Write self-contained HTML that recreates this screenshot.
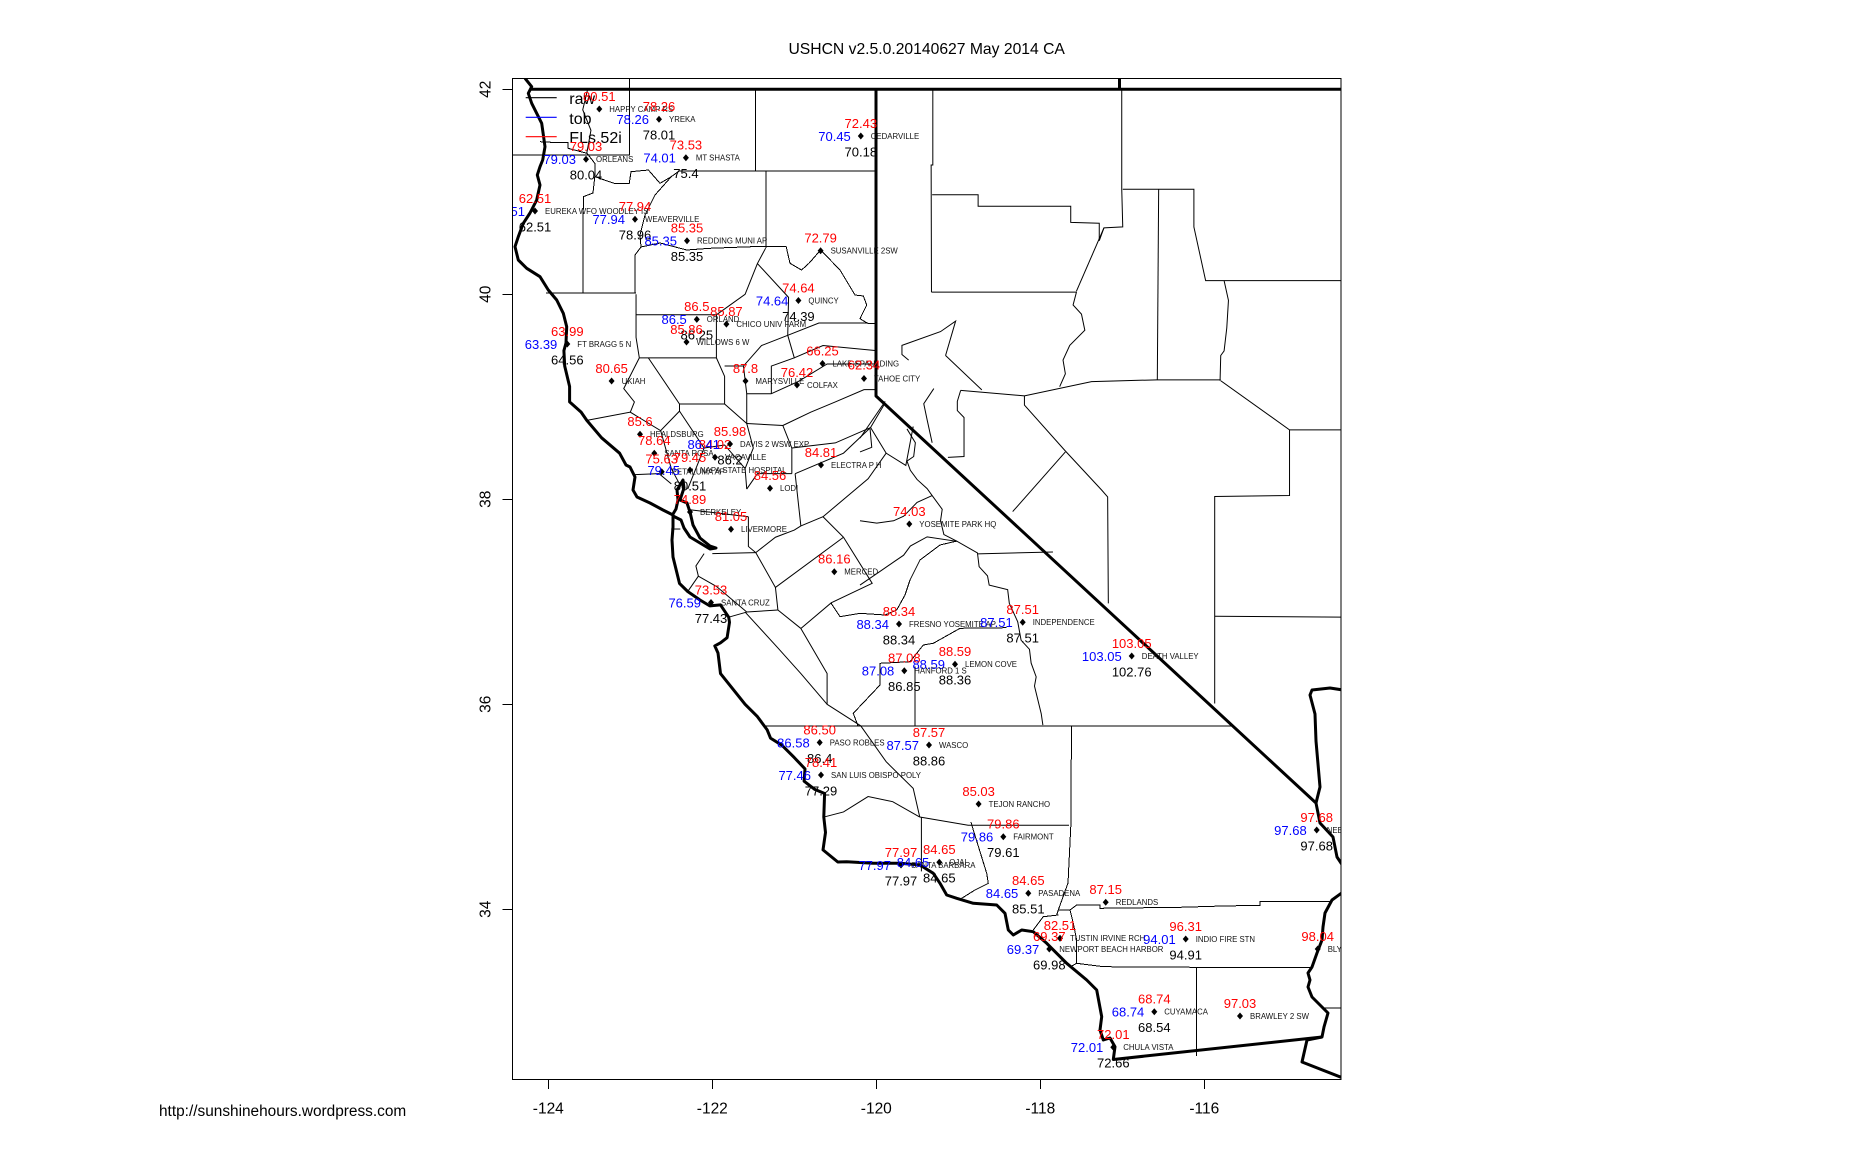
<!DOCTYPE html>
<html><head><meta charset="utf-8">
<style>
html,body{margin:0;padding:0;background:#fff;}
svg{display:block;font-family:"Liberation Sans",Arial,sans-serif;}
.thin{fill:none;stroke:#000;stroke-width:1;}
.thin *{vector-effect:non-scaling-stroke;}
.thick{fill:none;stroke:#000;stroke-width:3;stroke-linejoin:round;}
.r{fill:#ff0000;text-anchor:middle;font-size:13px;}
.b{fill:#0000ff;text-anchor:end;font-size:13px;}
.k{fill:#000;text-anchor:middle;font-size:13px;}
.n{fill:#111;font-size:7.8px;}
.pt{fill:#000;}
</style></head>
<body>
<svg width="1854" height="1158" viewBox="0 0 1854 1158" xmlns="http://www.w3.org/2000/svg">
<defs><clipPath id="pc"><rect x="512.3" y="78.3" width="828.7" height="1001"/></clipPath></defs>
<rect width="1854" height="1158" fill="#fff"/>
<text x="926.7" y="54" text-anchor="middle" font-size="15.7">USHCN v2.5.0.20140627 May 2014 CA</text>

<g clip-path="url(#pc)">
<!-- thin pixel lines -->
<g class="thin" shape-rendering="crispEdges">
<polyline points="540,141.7 558.5,142.7 568,142.7 568,148.3 587,153.3 594.8,163.3 594.8,176.7 614,183.3 629.3,183.3 631,171.7 648.4,170 660,183.3 671.3,176.7 679,171 876,171"/>
<polyline points="755.5,89.3 755.5,171"/>
<polyline points="766,171 766,248"/>
<polyline points="594.8,176.7 593,193 583.3,196.7 583,293"/>
<polyline points="546,293 636,293"/>
<polyline points="635,293 635,255 641,247 660,243 686.7,250 709.6,248.3 751.7,246.7 766,246.7 786.2,246.7 790,263.3 801.5,270 809,263.3 820.6,250 840,270 855,295 863.4,296 866.7,305 860,318.7 867.6,323.3 876,323.3"/>
<polyline points="671.3,176.7 655,195 645,215 640,235 641,247"/>
<polyline points="766,726 1233,726"/>
<polyline points="971,822 973.3,830 986.7,873.3 988.3,883.3 975,890 961.7,898.3"/>
<polyline points="1071.4,726 1071,822 1068,883 1058.3,910 1056.7,915"/>
<polyline points="1033.3,930 1043.3,916.7 1058.3,915"/>
<polyline points="1058.3,910 1070,910 1076.7,905 1100,905 1100,908.3 1180,907.3 1223,906 1260,905.3 1260,901.7 1331.7,901.7"/>
<polyline points="1070,910 1073.3,923.3 1076.7,940 1076.7,963.3 1070,967"/>
<polyline points="1076.7,963.3 1103.3,966.7 1196.7,967.3 1310,967.3"/>
<polyline points="1196.7,967.3 1196.7,1056"/>
<polyline points="1324,1008 1341,1008"/>
<polyline points="1006.7,627.7 960,628.3 933.3,643.3 923.3,645 910,661.7 880,663.3 880,685 853.3,713.3 858.3,726.7"/>
<polyline points="915,666.7 915,726.7"/>
<polyline points="831,603 840,616.7 860,613.3 885,615 896.7,610 905,595 910,580 920,560 940,545 957,541"/>
</g>
<!-- thin lon/lat lines -->
<g class="thin" transform="translate(548.3,89.3) scale(82,-102.5) translate(124,-42)">
<polyline points="-123.53,41.38 -123.48,41.6 -123.58,41.8 -123.52,42.0"/>
<polyline points="-122.93,40.0 -122.93,39.58 -122.89,39.38"/>
<polyline points="-122.89,39.38 -123.08,39.08 -122.95,38.95 -123.0,38.85"/>
<polyline points="-123.53,38.77 -123.0,38.85 -122.63,38.67 -122.4,38.86 -122.4,38.93"/>
<polyline points="-122.78,39.38 -122.4,38.93 -121.85,38.93"/>
<polyline points="-122.93,39.8 -121.95,39.8"/>
<polyline points="-122.89,39.38 -121.95,39.38"/>
<polyline points="-121.95,39.8 -121.95,39.38 -121.85,39.2 -121.85,38.93 -121.58,38.74"/>
<polyline points="-121.95,39.8 -121.6,40.0 -121.45,40.3 -121.35,40.45"/>
<polyline points="-121.45,40.3 -121.07,39.97 -121.08,39.6"/>
<polyline points="-121.85,39.3 -121.62,39.3 -121.4,39.5 -121.08,39.6"/>
<polyline points="-121.08,39.6 -120.7,39.72 -120.1,39.72"/>
<polyline points="-121.62,39.3 -121.58,39.03 -121.28,39.03"/>
<polyline points="-121.28,39.03 -121.28,39.3 -121.0,39.38 -121.08,39.6"/>
<polyline points="-121.28,39.03 -120.95,39.15 -120.6,39.32 -120.0,39.32"/>
<polyline points="-121.0,39.38 -120.65,39.5 -120.0,39.45"/>
<polyline points="-121.14,38.72 -120.8,38.85 -120.5,38.95 -120.15,39.07 -120.0,39.07"/>
<polyline points="-121.58,38.74 -121.58,39.03"/>
<polyline points="-121.58,38.1 -121.45,38.25 -121.03,38.25"/>
<polyline points="-121.03,38.25 -121.03,38.5 -121.14,38.72 -121.58,38.74"/>
<polyline points="-121.58,38.74 -121.5,38.5 -121.6,38.3 -121.58,38.1"/>
<polyline points="-122.1,38.5 -121.85,38.53 -121.6,38.3"/>
<polyline points="-122.4,38.86 -122.1,38.5 -122.2,38.3 -122.3,38.1"/>
<polyline points="-122.63,38.67 -122.5,38.3 -122.4,38.15"/>
<polyline points="-122.97,38.24 -122.65,38.25 -122.5,38.15"/>
<polyline points="-122.3,37.9 -121.56,37.83"/>
<polyline points="-122.0,37.47 -121.47,37.48"/>
<polyline points="-121.56,37.83 -121.56,37.54 -121.47,37.48"/>
<polyline points="-121.47,37.48 -121.23,37.63 -121.0,37.7 -120.92,37.74"/>
<polyline points="-120.92,37.74 -120.99,38.25"/>
<polyline points="-121.23,37.14 -120.4,37.63"/>
<polyline points="-121.47,37.48 -121.23,37.14"/>
<polyline points="-120.92,37.74 -120.65,37.83 -120.4,37.63"/>
<polyline points="-120.65,37.83 -120.1,38.2 -119.88,38.45"/>
<polyline points="-120.99,38.25 -120.4,38.45 -120.07,38.7"/>
<polyline points="-121.03,38.5 -120.5,38.55 -120.07,38.7"/>
<polyline points="-120.07,38.7 -119.9,38.93"/>
<polyline points="-120.07,38.7 -119.88,38.45 -119.64,38.33 -119.55,38.71"/>
<polyline points="-120.4,37.63 -120.05,37.18 -120.55,36.99 -120.92,36.74"/>
<polyline points="-121.23,37.14 -121.2,36.92 -120.92,36.74"/>
<polyline points="-120.92,36.74 -120.6,36.3 -120.6,36.0 -120.19,35.79"/>
<polyline points="-121.6,36.9 -121.2,36.55 -120.92,36.3 -120.6,36.0"/>
<polyline points="-122.1,37.47 -122.2,37.35 -122.17,37.25 -121.95,37.15 -121.58,36.9 -121.2,36.92"/>
<polyline points="-122.3,37.1 -122.17,37.25"/>
<polyline points="-121.8,36.85 -121.58,36.9"/>
<polyline points="-122.5,37.71 -122.39,37.71"/>
<polyline points="-120.64,34.9 -120.4,34.95 -120.1,35.1 -119.8,35.05 -119.47,34.9"/>
<polyline points="-120.19,35.79 -119.88,35.44 -119.55,35.18 -119.47,34.9"/>
<polyline points="-119.47,34.9 -118.88,34.82 -117.65,34.82"/>
<polyline points="-119.45,34.9 -119.45,34.37"/>
</g>
<!-- Nevada & eastern lines -->
<g class="thin" transform="translate(860,80) scale(0.33557,0.45914)">
<polyline points="217,18 217,185 212,185 213,462"/>
<polyline points="215,250 352,250 352,275 628,275 628,310 713,312 713,350 727,322 783,320 780,238 780,18"/>
<polyline points="727,322 645,460"/>
<polyline points="213,462 645,462 635,490 660,510 670,545 625,578 605,610 612,640 595,668"/>
<polyline points="300,676 490,688 690,657 885,653 1075,653"/>
<polyline points="490,688 490,708 612,808 720,893 738,908 740,1140"/>
<polyline points="612,810 455,940"/>
<polyline points="890,238 886,653"/>
<polyline points="783,238 995,238 995,320 1030,437 1443,437"/>
<polyline points="1085,437 1098,480 1093,540 1085,590 1075,600 1073,655"/>
<polyline points="1075,655 1280,762 1443,762"/>
<polyline points="1280,762 1280,905 1057,907 1057,1358"/>
<polyline points="1057,1168 1443,1170"/>
<polyline points="255,600 285,525 240,548 125,578 125,598 145,610"/>
<polyline points="255,600 363,675"/>
<polyline points="220,672 190,705 200,740 215,790"/>
<polyline points="300,676 290,700 290,720 310,735 310,820 262,822"/>
<polyline points="0,1100 60,1070 100,1050 130,1035 150,1015 200,995 290,1005 350,1030 355,1060 380,1080 385,1100 440,1110 445,1140 470,1180 480,1220 505,1240 510,1270 525,1300 520,1320 540,1380 545,1405"/>
<polyline points="350,1032 575,1028"/>
<polyline points="0,960 50,965 100,960 130,950 150,935 170,920 215,905"/>
<polyline points="140,760 165,790 160,820 140,830 150,850 170,870 200,890 215,905 245,935 240,960 250,990 290,1005"/>
<polyline points="30,760 35,800 0,810"/>
<polyline points="0,780 75,700"/>
</g>
<!-- thick state borders -->
<g class="thick">
<polyline points="525,78.3 531.7,86.7 528.3,93.3 531.7,103.3 541.7,123.3 545,146.7 542.7,160 540,166.7 537.3,175 540,185 536.7,200 530,213 523.3,223.3 518.3,236.7 515,246.7 518.3,260 526.7,268.3 540,276.7 548.3,290 556.7,300 563.3,313.3 566.7,326.7 566,343 563.9,350.7 564.7,366 569.6,386.5 569.6,401.9 581.1,412.1 586.8,420.4 601.6,437.8 619.6,453.2 626,465 630,467 635,477 633,490 637,497 650,503 663,510 673,515 673,527 672,540 673,557 679.5,583.4 687.7,591.5 700,600 709.8,605.9 720.5,604.9 728.7,617.2 729.5,622.3 727.1,637.7 720.5,642.8 714.8,645.9 718,653 720.5,673.6 728.7,683.8 745.1,704.3 757.4,716.6 767.2,729.9 770.5,738.1 782,745.3 794.3,757.6 805,768.9 804.1,781.2 814.8,789.4 824.6,793.5 823.8,817.1 825.5,832.4 823,849.9 837.8,862 846.7,861.7 873.3,863.3 900,863.3 920,865 933.3,873.3 940,883.3 946.7,895 956.7,898.3 973.3,903.3 996.7,905 1005,913.3 1008.3,930 1013.3,935 1021.7,930 1033.3,931.7 1046.7,943.3 1066.7,963.3 1086.7,980 1096.7,990 1101.7,1016.7 1100,1030 1103.3,1040 1110,1038 1115,1046.7 1113.3,1059.5 1322,1037 1324,1027 1328,1013 1322,1007 1312,997 1308,987 1310,980 1308,973 1312,967 1317,953 1322,940 1323,927 1325,913 1332,900 1343,892"/>
<polyline points="1343,866 1337,857 1333,837 1320,823 1316,803 876,396 876,89.3"/>
<polyline points="531,89.3 1343,89.3"/>
<polyline points="1119.5,76 1119.5,89.3"/>
<polyline points="1316,803 1320,787 1316,741 1315,714 1310,695 1312,690 1330,688 1343,690"/>
<polyline points="1322,1037 1307,1040 1302,1062 1343,1078"/>
<polyline points="673,514 676,509 678,500 677,490 683,480 684,488 680,500 687,503 690,512 693,525 700,538 710,546 716,548 710,549 700,543 690,537 684,528 681,520 673,516"/>
</g>

<!-- legend -->
<rect x="512.5" y="78.5" width="117" height="76.5" fill="none" stroke="#000" stroke-width="1" shape-rendering="crispEdges"/>
<line x1="525.7" y1="97.7" x2="556.7" y2="97.7" stroke="#000" stroke-width="1.2"/>
<line x1="525.7" y1="117.3" x2="556.7" y2="117.3" stroke="#0000ff" stroke-width="1.2"/>
<line x1="525.7" y1="136.7" x2="556.7" y2="136.7" stroke="#ff0000" stroke-width="1.2"/>
<text x="569.3" y="104.2" font-size="16">raw</text>
<text x="569.3" y="123.8" font-size="16">tob</text>
<text x="569.3" y="143.2" font-size="16">FLs.52i</text>

<!-- stations -->
<g transform="translate(599.3,109)"><path class="pt" d="M0,-3.5L3,0L0,3.5L-3,0Z"/><text class="n" x="10" y="2.8">HAPPY CAMP RS</text><text class="r" y="-8.2">80.51</text></g>
<g transform="translate(659,119.3)"><path class="pt" d="M0,-3.5L3,0L0,3.5L-3,0Z"/><text class="n" x="10" y="2.8">YREKA</text><text class="r" y="-8.2">78.26</text><text class="b" x="-10" y="4.8">78.26</text><text class="k" y="20.3">78.01</text></g>
<g transform="translate(586,159.3)"><path class="pt" d="M0,-3.5L3,0L0,3.5L-3,0Z"/><text class="n" x="10" y="2.8">ORLEANS</text><text class="r" y="-8.2">79.03</text><text class="b" x="-10" y="4.8">79.03</text><text class="k" y="20.3">80.04</text></g>
<g transform="translate(685.9,157.7)"><path class="pt" d="M0,-3.5L3,0L0,3.5L-3,0Z"/><text class="n" x="10" y="2.8">MT SHASTA</text><text class="r" y="-8.2">73.53</text><text class="b" x="-10" y="4.8">74.01</text><text class="k" y="20.3">75.4</text></g>
<g transform="translate(860.8,136)"><path class="pt" d="M0,-3.5L3,0L0,3.5L-3,0Z"/><text class="n" x="10" y="2.8">CEDARVILLE</text><text class="r" y="-8.2">72.43</text><text class="b" x="-10" y="4.8">70.45</text><text class="k" y="20.3">70.18</text></g>
<g transform="translate(535,211)"><path class="pt" d="M0,-3.5L3,0L0,3.5L-3,0Z"/><text class="n" x="10" y="2.8">EUREKA WFO WOODLEY IS</text><text class="r" y="-8.2">62.51</text><text class="b" x="-10" y="4.8">62.51</text><text class="k" y="20.3">62.51</text></g>
<g transform="translate(635,219.3)"><path class="pt" d="M0,-3.5L3,0L0,3.5L-3,0Z"/><text class="n" x="10" y="2.8">WEAVERVILLE</text><text class="r" y="-8.2">77.94</text><text class="b" x="-10" y="4.8">77.94</text><text class="k" y="20.3">78.96</text></g>
<g transform="translate(687,240.7)"><path class="pt" d="M0,-3.5L3,0L0,3.5L-3,0Z"/><text class="n" x="10" y="2.8">REDDING MUNI AP</text><text class="r" y="-8.2">85.35</text><text class="b" x="-10" y="4.8">85.35</text><text class="k" y="20.3">85.35</text></g>
<g transform="translate(820.6,250.7)"><path class="pt" d="M0,-3.5L3,0L0,3.5L-3,0Z"/><text class="n" x="10" y="2.8">SUSANVILLE 2SW</text><text class="r" y="-8.2">72.79</text></g>
<g transform="translate(798.4,300.5)"><path class="pt" d="M0,-3.5L3,0L0,3.5L-3,0Z"/><text class="n" x="10" y="2.8">QUINCY</text><text class="r" y="-8.2">74.64</text><text class="b" x="-10" y="4.8">74.64</text><text class="k" y="20.3">74.39</text></g>
<g transform="translate(696.8,319.4)"><path class="pt" d="M0,-3.5L3,0L0,3.5L-3,0Z"/><text class="n" x="10" y="2.8">ORLAND</text><text class="r" y="-8.2">86.5</text><text class="b" x="-10" y="4.8">86.5</text><text class="k" y="20.3">86.25</text></g>
<g transform="translate(726.4,324.1)"><path class="pt" d="M0,-3.5L3,0L0,3.5L-3,0Z"/><text class="n" x="10" y="2.8">CHICO UNIV FARM</text><text class="r" y="-8.2">85.87</text></g>
<g transform="translate(686.5,342)"><path class="pt" d="M0,-3.5L3,0L0,3.5L-3,0Z"/><text class="n" x="10" y="2.8">WILLOWS 6 W</text><text class="r" y="-8.2">85.86</text></g>
<g transform="translate(567.3,344)"><path class="pt" d="M0,-3.5L3,0L0,3.5L-3,0Z"/><text class="n" x="10" y="2.8">FT BRAGG 5 N</text><text class="r" y="-8.2">63.99</text><text class="b" x="-10" y="4.8">63.39</text><text class="k" y="20.3">64.56</text></g>
<g transform="translate(611.6,381)"><path class="pt" d="M0,-3.5L3,0L0,3.5L-3,0Z"/><text class="n" x="10" y="2.8">UKIAH</text><text class="r" y="-8.2">80.65</text></g>
<g transform="translate(745.5,381)"><path class="pt" d="M0,-3.5L3,0L0,3.5L-3,0Z"/><text class="n" x="10" y="2.8">MARYSVILLE</text><text class="r" y="-8.2">87.8</text></g>
<g transform="translate(822.5,363.5)"><path class="pt" d="M0,-3.5L3,0L0,3.5L-3,0Z"/><text class="n" x="10" y="2.8">LAKE SPAULDING</text><text class="r" y="-8.2">66.25</text></g>
<g transform="translate(864,378.5)"><path class="pt" d="M0,-3.5L3,0L0,3.5L-3,0Z"/><text class="n" x="10" y="2.8">TAHOE CITY</text><text class="r" y="-9">62.34</text></g>
<g transform="translate(797,385)"><path class="pt" d="M0,-3.5L3,0L0,3.5L-3,0Z"/><text class="n" x="10" y="2.8">COLFAX</text><text class="r" y="-8.2">76.42</text></g>
<g transform="translate(640,434.3)"><path class="pt" d="M0,-3.5L3,0L0,3.5L-3,0Z"/><text class="n" x="10" y="2.8">HEALDSBURG</text><text class="r" y="-8.2">85.6</text></g>
<g transform="translate(654.3,453.3)"><path class="pt" d="M0,-3.5L3,0L0,3.5L-3,0Z"/><text class="n" x="10" y="2.8">SANTA ROSA</text><text class="r" y="-8.2">78.64</text></g>
<g transform="translate(661.7,471.7)"><path class="pt" d="M0,-3.5L3,0L0,3.5L-3,0Z"/><text class="n" x="10" y="2.8">PETALUMA AP</text><text class="r" y="-8.2">75.63</text></g>
<g transform="translate(690,470)"><path class="pt" d="M0,-3.5L3,0L0,3.5L-3,0Z"/><text class="n" x="10" y="2.8">NAPA STATE HOSPITAL</text><text class="r" y="-8.2">79.45</text><text class="b" x="-10" y="4.8">79.45</text><text class="k" y="20.3">80.51</text></g>
<g transform="translate(715,457.3)"><path class="pt" d="M0,-3.5L3,0L0,3.5L-3,0Z"/><text class="n" x="10" y="2.8">VACAVILLE</text><text class="r" y="-8.2">84.02</text></g>
<g transform="translate(730,444)"><path class="pt" d="M0,-3.5L3,0L0,3.5L-3,0Z"/><text class="n" x="10" y="2.8">DAVIS 2 WSW EXP</text><text class="r" y="-8.2">85.98</text><text class="b" x="-10" y="4.8">86.41</text><text class="k" y="20.3">86.2</text></g>
<g transform="translate(821,465)"><path class="pt" d="M0,-3.5L3,0L0,3.5L-3,0Z"/><text class="n" x="10" y="2.8">ELECTRA P H</text><text class="r" y="-8.2">84.81</text></g>
<g transform="translate(770,488.3)"><path class="pt" d="M0,-3.5L3,0L0,3.5L-3,0Z"/><text class="n" x="10" y="2.8">LODI</text><text class="r" y="-8.2">84.56</text></g>
<g transform="translate(690,512)"><path class="pt" d="M0,-3.5L3,0L0,3.5L-3,0Z"/><text class="n" x="10" y="2.8">BERKELEY</text><text class="r" y="-8.2">74.89</text></g>
<g transform="translate(731,529.3)"><path class="pt" d="M0,-3.5L3,0L0,3.5L-3,0Z"/><text class="n" x="10" y="2.8">LIVERMORE</text><text class="r" y="-8.2">81.05</text></g>
<g transform="translate(909.3,524)"><path class="pt" d="M0,-3.5L3,0L0,3.5L-3,0Z"/><text class="n" x="10" y="2.8">YOSEMITE PARK HQ</text><text class="r" y="-8.2">74.03</text></g>
<g transform="translate(834.3,571.8)"><path class="pt" d="M0,-3.5L3,0L0,3.5L-3,0Z"/><text class="n" x="10" y="2.8">MERCED</text><text class="r" y="-8.2">86.16</text></g>
<g transform="translate(711,602.5)"><path class="pt" d="M0,-3.5L3,0L0,3.5L-3,0Z"/><text class="n" x="10" y="2.8">SANTA CRUZ</text><text class="r" y="-8.2">73.53</text><text class="b" x="-10" y="4.8">76.59</text><text class="k" y="20.3">77.43</text></g>
<g transform="translate(899,624)"><path class="pt" d="M0,-3.5L3,0L0,3.5L-3,0Z"/><text class="n" x="10" y="2.8">FRESNO YOSEMITE AP</text><text class="r" y="-8.2">88.34</text><text class="b" x="-10" y="4.8">88.34</text><text class="k" y="20.3">88.34</text></g>
<g transform="translate(1022.7,622.3)"><path class="pt" d="M0,-3.5L3,0L0,3.5L-3,0Z"/><text class="n" x="10" y="2.8">INDEPENDENCE</text><text class="r" y="-8.2">87.51</text><text class="b" x="-10" y="4.8">87.51</text><text class="k" y="20.3">87.51</text></g>
<g transform="translate(1131.7,656)"><path class="pt" d="M0,-3.5L3,0L0,3.5L-3,0Z"/><text class="n" x="10" y="2.8">DEATH VALLEY</text><text class="r" y="-8.2">103.05</text><text class="b" x="-10" y="4.8">103.05</text><text class="k" y="20.3">102.76</text></g>
<g transform="translate(955,664.3)"><path class="pt" d="M0,-3.5L3,0L0,3.5L-3,0Z"/><text class="n" x="10" y="2.8">LEMON COVE</text><text class="r" y="-8.2">88.59</text><text class="b" x="-10" y="4.8">88.59</text><text class="k" y="20.3">88.36</text></g>
<g transform="translate(904.3,670.7)"><path class="pt" d="M0,-3.5L3,0L0,3.5L-3,0Z"/><text class="n" x="10" y="2.8">HANFORD 1 S</text><text class="r" y="-8.2">87.08</text><text class="b" x="-10" y="4.8">87.08</text><text class="k" y="20.3">86.85</text></g>
<g transform="translate(819.7,742.5)"><path class="pt" d="M0,-3.5L3,0L0,3.5L-3,0Z"/><text class="n" x="10" y="2.8">PASO ROBLES</text><text class="r" y="-8.2">86.50</text><text class="b" x="-10" y="4.8">86.58</text><text class="k" y="20.3">86.4</text></g>
<g transform="translate(929,745)"><path class="pt" d="M0,-3.5L3,0L0,3.5L-3,0Z"/><text class="n" x="10" y="2.8">WASCO</text><text class="r" y="-8.2">87.57</text><text class="b" x="-10" y="4.8">87.57</text><text class="k" y="20.3">88.86</text></g>
<g transform="translate(821,775)"><path class="pt" d="M0,-3.5L3,0L0,3.5L-3,0Z"/><text class="n" x="10" y="2.8">SAN LUIS OBISPO POLY</text><text class="r" y="-8.2">78.41</text><text class="b" x="-10" y="4.8">77.46</text><text class="k" y="20.3">77.29</text></g>
<g transform="translate(978.6,804)"><path class="pt" d="M0,-3.5L3,0L0,3.5L-3,0Z"/><text class="n" x="10" y="2.8">TEJON RANCHO</text><text class="r" y="-8.2">85.03</text></g>
<g transform="translate(1003.3,836.7)"><path class="pt" d="M0,-3.5L3,0L0,3.5L-3,0Z"/><text class="n" x="10" y="2.8">FAIRMONT</text><text class="r" y="-8.2">79.86</text><text class="b" x="-10" y="4.8">79.86</text><text class="k" y="20.3">79.61</text></g>
<g transform="translate(1316.7,830)"><path class="pt" d="M0,-3.5L3,0L0,3.5L-3,0Z"/><text class="n" x="10" y="2.8">NEEDLES</text><text class="r" y="-8.2">97.68</text><text class="b" x="-10" y="4.8">97.68</text><text class="k" y="20.3">97.68</text></g>
<g transform="translate(901,865)"><path class="pt" d="M0,-3.5L3,0L0,3.5L-3,0Z"/><text class="n" x="10" y="2.8">SANTA BARBARA</text><text class="r" y="-8.2">77.97</text><text class="b" x="-10" y="4.8">77.97</text><text class="k" y="20.3">77.97</text></g>
<g transform="translate(939.3,862.3)"><path class="pt" d="M0,-3.5L3,0L0,3.5L-3,0Z"/><text class="n" x="10" y="2.8">OJAI</text><text class="r" y="-8.2">84.65</text><text class="b" x="-10" y="4.8">84.65</text><text class="k" y="20.3">84.65</text></g>
<g transform="translate(1028.3,893.3)"><path class="pt" d="M0,-3.5L3,0L0,3.5L-3,0Z"/><text class="n" x="10" y="2.8">PASADENA</text><text class="r" y="-8.2">84.65</text><text class="b" x="-10" y="4.8">84.65</text><text class="k" y="20.3">85.51</text></g>
<g transform="translate(1105.7,902.3)"><path class="pt" d="M0,-3.5L3,0L0,3.5L-3,0Z"/><text class="n" x="10" y="2.8">REDLANDS</text><text class="r" y="-8.2">87.15</text></g>
<g transform="translate(1060,938.3)"><path class="pt" d="M0,-3.5L3,0L0,3.5L-3,0Z"/><text class="n" x="10" y="2.8">TUSTIN IRVINE RCH</text><text class="r" y="-8.2">82.51</text></g>
<g transform="translate(1049.3,949)"><path class="pt" d="M0,-3.5L3,0L0,3.5L-3,0Z"/><text class="n" x="10" y="2.8">NEWPORT BEACH HARBOR</text><text class="r" y="-8.2">69.37</text><text class="b" x="-10" y="4.8">69.37</text><text class="k" y="20.3">69.98</text></g>
<g transform="translate(1185.7,939)"><path class="pt" d="M0,-3.5L3,0L0,3.5L-3,0Z"/><text class="n" x="10" y="2.8">INDIO FIRE STN</text><text class="r" y="-8.2">96.31</text><text class="b" x="-10" y="4.8">94.01</text><text class="k" y="20.3">94.91</text></g>
<g transform="translate(1317.7,949)"><path class="pt" d="M0,-3.5L3,0L0,3.5L-3,0Z"/><text class="n" x="10" y="2.8">BLYTHE</text><text class="r" y="-8.2">98.04</text></g>
<g transform="translate(1154.3,1011.7)"><path class="pt" d="M0,-3.5L3,0L0,3.5L-3,0Z"/><text class="n" x="10" y="2.8">CUYAMACA</text><text class="r" y="-8.2">68.74</text><text class="b" x="-10" y="4.8">68.74</text><text class="k" y="20.3">68.54</text></g>
<g transform="translate(1240,1016)"><path class="pt" d="M0,-3.5L3,0L0,3.5L-3,0Z"/><text class="n" x="10" y="2.8">BRAWLEY 2 SW</text><text class="r" y="-8.2">97.03</text></g>
<g transform="translate(1113.3,1047.3)"><path class="pt" d="M0,-3.5L3,0L0,3.5L-3,0Z"/><text class="n" x="10" y="2.8">CHULA VISTA</text><text class="r" y="-8.2">72.01</text><text class="b" x="-10" y="4.8">72.01</text><text class="k" y="20.3">72.66</text></g>
</g>

<!-- plot box -->
<rect x="512.5" y="78.5" width="828.5" height="1001" fill="none" stroke="#000" stroke-width="1" shape-rendering="crispEdges"/>
<g stroke="#000" stroke-width="1" shape-rendering="crispEdges">
<line x1="548.5" y1="1079.5" x2="548.5" y2="1089"/>
<line x1="712.5" y1="1079.5" x2="712.5" y2="1089"/>
<line x1="876.5" y1="1079.5" x2="876.5" y2="1089"/>
<line x1="1040.5" y1="1079.5" x2="1040.5" y2="1089"/>
<line x1="1204.5" y1="1079.5" x2="1204.5" y2="1089"/>
<line x1="502.3" y1="89.5" x2="512.3" y2="89.5"/>
<line x1="502.3" y1="294.5" x2="512.3" y2="294.5"/>
<line x1="502.3" y1="499.5" x2="512.3" y2="499.5"/>
<line x1="502.3" y1="704.5" x2="512.3" y2="704.5"/>
<line x1="502.3" y1="909.5" x2="512.3" y2="909.5"/>
</g>
<g font-size="15.5" text-anchor="middle">
<text x="548.3" y="1113.5">-124</text>
<text x="712.3" y="1113.5">-122</text>
<text x="876.3" y="1113.5">-120</text>
<text x="1040.3" y="1113.5">-118</text>
<text x="1204.3" y="1113.5">-116</text>
<text transform="translate(490.7,89.3) rotate(-90)">42</text>
<text transform="translate(490.7,294.3) rotate(-90)">40</text>
<text transform="translate(490.7,499.3) rotate(-90)">38</text>
<text transform="translate(490.7,704.3) rotate(-90)">36</text>
<text transform="translate(490.7,909.3) rotate(-90)">34</text>
</g>
<text x="159" y="1116" font-size="15.4">http://sunshinehours.wordpress.com</text>
</svg>
</body></html>
